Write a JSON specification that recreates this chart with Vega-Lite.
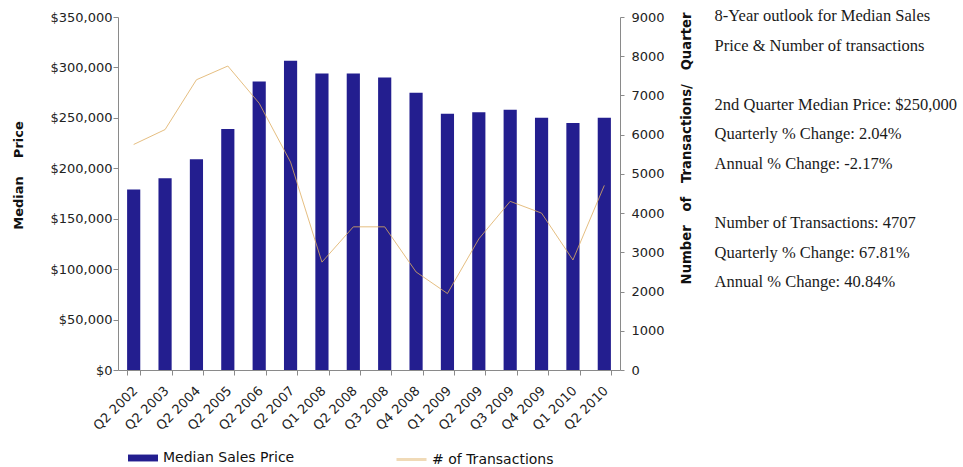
{
  "$schema": "https://vega.github.io/schema/vega-lite/v6.json",
  "width": 502,
  "height": 353,
  "autosize": {"type": "none"},
  "padding": {"left": 118, "top": 17, "right": 343, "bottom": 97},
  "background": "white",
  "title": {
    "text": [
      "8-Year outlook for Median Sales",
      "Price & Number of transactions",
      "\u200b",
      "2nd Quarter Median Price: $250,000",
      "Quarterly % Change: 2.04%",
      "Annual % Change: -2.17%",
      "\u200b",
      "Number of Transactions: 4707",
      "Quarterly % Change: 67.81%",
      "Annual % Change: 40.84%"
    ],
    "orient": "right",
    "anchor": "start",
    "frame": "group",
    "angle": 0,
    "align": "left",
    "baseline": "alphabetic",
    "font": "Liberation Serif",
    "fontSize": 16.5,
    "fontWeight": "normal",
    "color": "#1a1a1a",
    "lineHeight": 29.6,
    "offset": -220,
    "dy": 4
  },
  "data": {
    "values": [
      {"quarter": "Q2 2002", "price": 179000, "transactions": 5750},
      {"quarter": "Q2 2003", "price": 190000, "transactions": 6130},
      {"quarter": "Q2 2004", "price": 209000, "transactions": 7400},
      {"quarter": "Q2 2005", "price": 239000, "transactions": 7750},
      {"quarter": "Q2 2006", "price": 286000, "transactions": 6800},
      {"quarter": "Q2 2007", "price": 306500, "transactions": 5300},
      {"quarter": "Q1 2008", "price": 294000, "transactions": 2750},
      {"quarter": "Q2 2008", "price": 294000, "transactions": 3650},
      {"quarter": "Q3 2008", "price": 290000, "transactions": 3650},
      {"quarter": "Q4 2008", "price": 275000, "transactions": 2500},
      {"quarter": "Q1 2009", "price": 254000, "transactions": 1950},
      {"quarter": "Q2 2009", "price": 255500, "transactions": 3342},
      {"quarter": "Q3 2009", "price": 258000, "transactions": 4300},
      {"quarter": "Q4 2009", "price": 250000, "transactions": 4000},
      {"quarter": "Q1 2010", "price": 245000, "transactions": 2805},
      {"quarter": "Q2 2010", "price": 250000, "transactions": 4707}
    ]
  },
  "encoding": {
    "x": {
      "field": "quarter",
      "type": "nominal",
      "sort": null,
      "scale": {"paddingInner": 0.58, "paddingOuter": 0.29},
      "axis": {
        "title": null,
        "labelAngle": -45,
        "labelFontSize": 13,
        "labelPadding": 9,
        "labelOffset": -3,
        "tickBand": "extent",
        "tickSize": 5
      }
    }
  },
  "layer": [
    {
      "mark": {"type": "bar"},
      "encoding": {
        "y": {
          "field": "price",
          "type": "quantitative",
          "scale": {"domain": [0, 350000], "nice": false},
          "axis": {
            "orient": "left",
            "title": "Median \u00a0\u00a0\u00a0Price",
            "values": [0, 50000, 100000, 150000, 200000, 250000, 300000, 350000],
            "format": "$,.0f",
            "grid": false,
            "tickSize": 5,
            "labelPadding": 1,
            "labelFontSize": 13,
            "titleFontSize": 13,
            "titleFontWeight": "bold",
            "titleAngle": 270,
            "titleX": -100,
            "titleY": 158,
            "titleBaseline": "middle",
            "titleAlign": "center"
          }
        },
        "fill": {
          "datum": "Median Sales Price",
          "scale": {"range": ["#231e8f"]},
          "legend": {
            "orient": "none",
            "legendX": 10,
            "legendY": 426,
            "title": null,
            "symbolType": "M-1,-0.23H1V0.23H-1Z",
            "symbolSize": 900,
            "symbolStrokeWidth": 0,
            "labelFontSize": 14,
            "labelOffset": 5
          }
        }
      }
    },
    {
      "mark": {"type": "line", "strokeWidth": 1, "opacity": 0.8},
      "encoding": {
        "y": {
          "field": "transactions",
          "type": "quantitative",
          "scale": {"domain": [0, 9000], "nice": false},
          "axis": {
            "orient": "right",
            "title": "Number \u00a0\u00a0of \u00a0\u00a0Transactions/ \u00a0\u00a0Quarter",
            "values": [0, 1000, 2000, 3000, 4000, 5000, 6000, 7000, 8000, 9000],
            "format": "d",
            "grid": false,
            "tickSize": 4,
            "labelPadding": 7,
            "labelFontSize": 13,
            "titleFontSize": 13.2,
            "titleFontWeight": "bold",
            "titleAngle": 270,
            "titleX": 66,
            "titleY": 131,
            "titleBaseline": "middle",
            "titleAlign": "center"
          }
        },
        "stroke": {
          "datum": "# of Transactions",
          "scale": {"range": ["#dfae62"]},
          "legend": {
            "orient": "none",
            "legendX": 277,
            "legendY": 426,
            "title": null,
            "symbolType": "stroke",
            "symbolSize": 900,
            "symbolStrokeWidth": 3,
            "symbolOpacity": 0.45,
            "labelFontSize": 14,
            "labelOffset": 4
          }
        }
      }
    }
  ],
  "resolve": {"scale": {"y": "independent"}},
  "config": {
    "view": {"stroke": null},
    "axis": {
      "labelFont": "DejaVu Sans",
      "titleFont": "DejaVu Sans",
      "labelColor": "#222222",
      "titleColor": "#111111",
      "domainColor": "#8a8a8a",
      "tickColor": "#8a8a8a"
    },
    "legend": {
      "labelFont": "DejaVu Sans",
      "labelColor": "#111111"
    }
  }
}
